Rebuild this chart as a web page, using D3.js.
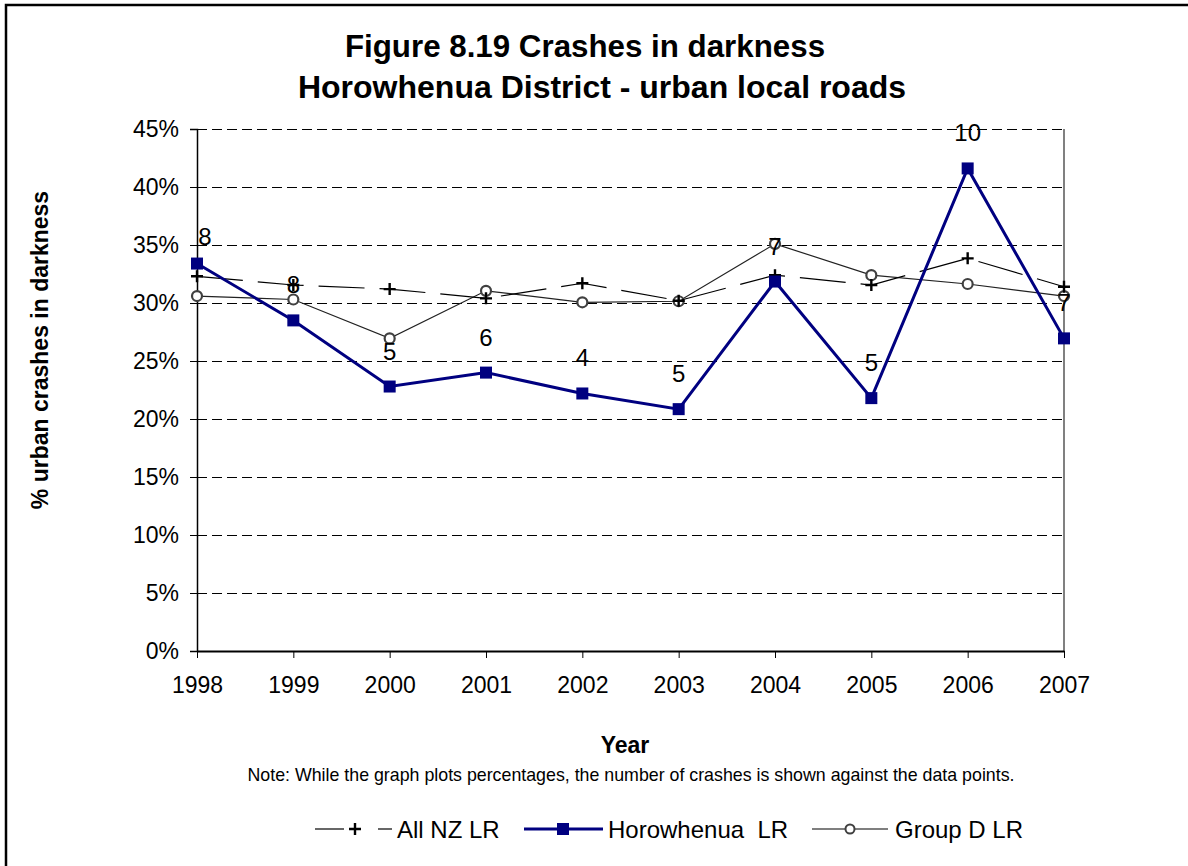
<!DOCTYPE html>
<html><head><meta charset="utf-8">
<script src="https://cdn.jsdelivr.net/npm/d3@7"></script>
<style>
html,body{margin:0;padding:0;background:#fff;}
svg{display:block;font-family:Arial,"Liberation Sans",sans-serif;}
</style></head>
<body>
<svg id="chart" width="1188" height="866"></svg>
<script>
const years = [1998, 1999, 2000, 2001, 2002, 2003, 2004, 2005, 2006, 2007];
const allNZ = [32.3, 31.55, 31.2, 30.4, 31.7, 30.2, 32.4, 31.55, 33.85, 31.4];
const horowhenua = [33.4, 28.5, 22.8, 24.0, 22.2, 20.85, 31.85, 21.8, 41.6, 26.95];
const groupD = [30.6, 30.3, 26.95, 31.05, 30.06, 30.15, 35.1, 32.4, 31.64, 30.6];
const crashCounts = [8, 8, 5, 6, 4, 5, 7, 5, 10, 7];
const yTicks = [0, 5, 10, 15, 20, 25, 30, 35, 40, 45];
const seriesNames = ["All NZ LR", "Horowhenua  LR", "Group D LR"];
const titleLines = ["Figure 8.19 Crashes in darkness", "Horowhenua District - urban local roads"];

const svg = d3.select("#chart");
const L = 197, R = 1064, T = 129, B = 651;
const x = d3.scalePoint().domain(years).range([L, R]);
const y = d3.scaleLinear().domain([0, 45]).range([B, T]);
const navy = "#000080";

// outer border (top & left)
svg.append("path").attr("d", "M6,870 L6,5 L1192,5").attr("fill", "none")
  .attr("stroke", "#000").attr("stroke-width", 2.5);

// title
svg.append("g").selectAll("text").data(titleLines).join("text")
  .attr("x", (d, i) => i === 0 ? 585 : 602).attr("y", (d, i) => 57 + i * 41)
  .attr("text-anchor", "middle").attr("font-weight", "bold")
  .attr("font-size", (d, i) => i === 0 ? 31.3 : 32)
  .text(d => d);

// gridlines
svg.append("g").selectAll("line").data(yTicks.filter(d => d > 0)).join("line")
  .attr("x1", L).attr("x2", R).attr("y1", d => y(d) + 0.5).attr("y2", d => y(d) + 0.5)
  .attr("stroke", "#000").attr("stroke-width", 1).attr("stroke-dasharray", "10,5");

// right plot border
svg.append("line").attr("x1", R).attr("x2", R).attr("y1", T).attr("y2", B)
  .attr("stroke", "#808080").attr("stroke-width", 2);

// axes
const yAxis = d3.axisLeft(y).tickValues(yTicks).tickFormat(d => d + "%").tickSize(7).tickPadding(11);
const gy = svg.append("g").attr("transform", `translate(${L},0)`).call(yAxis);
gy.select(".domain").attr("stroke", "#000").attr("stroke-width", 1.5);
gy.selectAll(".tick line").attr("stroke", "#000");
gy.selectAll(".tick text").attr("font-size", 23).attr("fill", "#000").attr("font-family", "Arial, 'Liberation Sans', sans-serif");

const xAxis = d3.axisBottom(x).tickSize(7).tickPadding(19).tickSizeOuter(0);
const gx = svg.append("g").attr("transform", `translate(0,${B})`).call(xAxis);
gx.select(".domain").attr("stroke", "#000").attr("stroke-width", 2);
gx.selectAll(".tick line").attr("stroke", "#000");
gx.selectAll(".tick text").attr("font-size", 23).attr("fill", "#000").attr("font-family", "Arial, 'Liberation Sans', sans-serif");

// axis titles
svg.append("text").attr("transform", "translate(48,350) rotate(-90)")
  .attr("text-anchor", "middle").attr("font-weight", "bold").attr("font-size", 23)
  .text("% urban crashes in darkness");
svg.append("text").attr("x", 625).attr("y", 753).attr("text-anchor", "middle")
  .attr("font-weight", "bold").attr("font-size", 23).text("Year");
svg.append("text").attr("x", 631).attr("y", 781).attr("text-anchor", "middle")
  .attr("font-size", 17.8).text("Note: While the graph plots percentages, the number of crashes is shown against the data points.");

const line = d3.line().x((d, i) => x(years[i])).y(d => y(d));

// Group D LR
svg.append("path").datum(groupD).attr("d", line).attr("fill", "none")
  .attr("stroke", "#222").attr("stroke-width", 1.2);
svg.append("g").selectAll("circle").data(groupD).join("circle")
  .attr("cx", (d, i) => x(years[i])).attr("cy", d => y(d)).attr("r", 5)
  .attr("fill", "#fff").attr("stroke", "#404040").attr("stroke-width", 2.2);

// All NZ LR
svg.append("path").datum(allNZ).attr("d", line).attr("fill", "none")
  .attr("stroke", "#000").attr("stroke-width", 1.2).attr("stroke-dasharray", "46,15");
const plus = s => `M${-s},0H${s}M0,${-s}V${s}`;
svg.append("g").selectAll("path").data(allNZ).join("path")
  .attr("transform", (d, i) => `translate(${x(years[i])},${y(d)})`)
  .attr("d", plus(6)).attr("stroke", "#000").attr("stroke-width", 2.4);

// Horowhenua LR
svg.append("path").datum(horowhenua).attr("d", line).attr("fill", "none")
  .attr("stroke", navy).attr("stroke-width", 3);
svg.append("g").selectAll("rect").data(horowhenua).join("rect")
  .attr("x", (d, i) => x(years[i]) - 6).attr("y", d => y(d) - 6)
  .attr("width", 12).attr("height", 12).attr("fill", navy);

// data labels
svg.append("g").selectAll("text").data(crashCounts).join("text")
  .attr("x", (d, i) => x(years[i]) + (i === 0 ? 8 : 0))
  .attr("y", (d, i) => y(horowhenua[i]) - (i === 0 ? 19 : 27))
  .attr("text-anchor", "middle").attr("font-size", 24).text(d => d);

// legend
const lg = svg.append("g").attr("transform", "translate(0,829)");
lg.append("line").attr("x1", 315).attr("x2", 344).attr("stroke", "#000").attr("stroke-width", 1.2);
lg.append("line").attr("x1", 378).attr("x2", 392).attr("stroke", "#000").attr("stroke-width", 1.2);
lg.append("path").attr("transform", "translate(355,0)").attr("d", plus(6)).attr("stroke", "#000").attr("stroke-width", 2.4);
lg.append("text").attr("x", 397).attr("y", 9).attr("font-size", 24).text(seriesNames[0]);

lg.append("line").attr("x1", 524).attr("x2", 603).attr("stroke", navy).attr("stroke-width", 3);
lg.append("rect").attr("x", 557).attr("y", -6).attr("width", 12).attr("height", 12).attr("fill", navy);
lg.append("text").attr("x", 608).attr("y", 9).attr("font-size", 24).style("white-space", "pre").text(seriesNames[1]);

lg.append("line").attr("x1", 812).attr("x2", 888).attr("stroke", "#555").attr("stroke-width", 1.5);
lg.append("circle").attr("cx", 850).attr("cy", 0).attr("r", 4.5).attr("fill", "#fff").attr("stroke", "#404040").attr("stroke-width", 2);
lg.append("text").attr("x", 895).attr("y", 9).attr("font-size", 24).text(seriesNames[2]);
</script>
</body></html>
